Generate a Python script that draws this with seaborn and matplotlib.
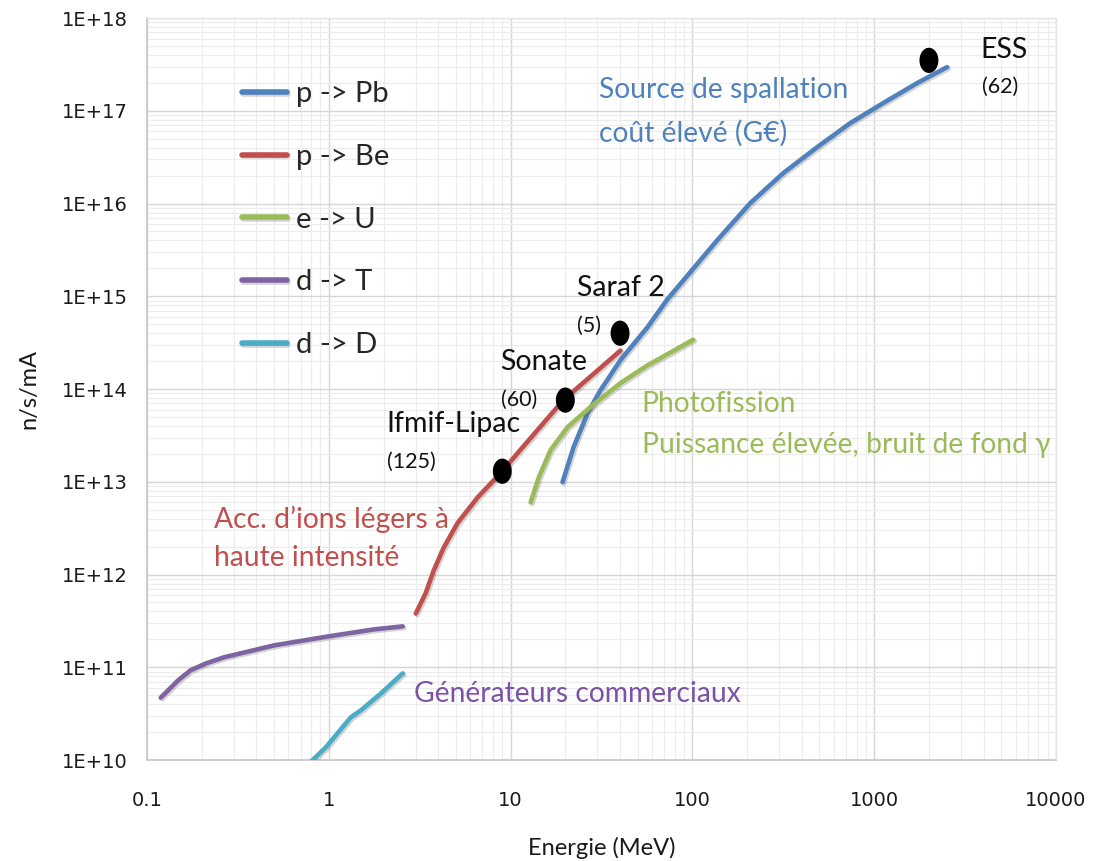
import numpy as np
import pandas as pd
import matplotlib
matplotlib.use("Agg")
import matplotlib.pyplot as plt
import matplotlib.patheffects as pe
from matplotlib.path import Path
from matplotlib.ticker import LogLocator, FixedLocator, FixedFormatter, NullFormatter
import seaborn as sns

# Neutron yield (n/s/mA) versus beam energy (MeV) for each reaction
pb_energy = [19.3, 22.2, 26.5, 31.2, 40.2, 56.6, 72.9, 89.3, 137, 208, 316,
             486, 738, 1119, 1722, 2520]
pb_yield = [9.9e12, 2.36e13, 5.5e13, 9.7e13, 2.05e14, 4.64e14, 9.3e14, 1.49e15,
            4.03e15, 1.01e16, 2.13e16, 4.06e16, 7.37e16, 1.21e17, 1.99e17, 2.96e17]

be_energy = [3.01, 3.41, 3.78, 4.29, 5.11, 6.59, 8.81, 11.3, 19.5, 40.2]
be_yield = [3.8e11, 6.3e11, 1.11e12, 1.96e12, 3.6e12, 6.8e12, 1.24e13, 2.2e13,
            7.6e13, 2.6e14]

u_energy = [12.9, 14.3, 16.6, 20.6, 27.5, 40.2, 56.6, 101]
u_yield = [6.0e12, 1.12e13, 2.2e13, 3.9e13, 6.4e13, 1.16e14, 1.8e14, 3.4e14]

t_energy = [0.119, 0.148, 0.174, 0.211, 0.265, 0.499, 0.99, 1.77, 2.55]
t_yield = [4.7e10, 7.2e10, 9.3e10, 1.10e11, 1.28e11, 1.72e11, 2.15e11, 2.56e11,
           2.76e11]

d_energy = [0.78, 0.963, 1.32, 1.50, 1.93, 2.55]
d_yield = [9.2e9, 1.37e10, 2.88e10, 3.43e10, 5.2e10, 8.6e10]

reactions = ["p -> Pb", "p -> Be", "e -> U", "d -> T", "d -> D"]
reaction_colors = ["#4f81bd", "#c0504d", "#9bbb59", "#8064a2", "#4bacc6"]

# Facilities: name, energy (MeV), yield (n/s/mA), current label
facility_names = ["ESS", "Saraf 2", "Sonate", "Ifmif-Lipac"]
facility_energy = [2000, 40, 20, 9]
facility_yield = [3.5e17, 4.0e14, 7.6e13, 1.3e13]
facility_notes = ["(62)", "(5)", "(60)", "(125)"]

x_ticks = [0.1, 1, 10, 100, 1000, 10000]
x_tick_labels = ["0.1", "1", "10", "100", "1000", "10000"]
y_ticks = [1e10, 1e11, 1e12, 1e13, 1e14, 1e15, 1e16, 1e17, 1e18]
y_tick_labels = ["1E+10", "1E+11", "1E+12", "1E+13", "1E+14",
                 "1E+15", "1E+16", "1E+17", "1E+18"]

curves = pd.concat([
    pd.DataFrame({"energy": e, "yield": y, "reaction": r})
    for e, y, r in zip([pb_energy, be_energy, u_energy, t_energy, d_energy],
                       [pb_yield, be_yield, u_yield, t_yield, d_yield],
                       reactions)
], ignore_index=True)

sns.set_theme(style="white")
plt.rcParams["font.family"] = ["Lato", "DejaVu Sans"]

fig = plt.figure(figsize=(11.17, 8.61), dpi=100)
ax = fig.add_axes([0.1316, 0.1173, 0.8138, 0.8617])
ax.set_xscale("log")
ax.set_yscale("log")

sns.lineplot(data=curves, x="energy", y="yield", hue="reaction",
             hue_order=reactions, palette=dict(zip(reactions, reaction_colors)),
             estimator=None, sort=False, linewidth=3.3, ax=ax, zorder=3)
for line in ax.get_lines():
    line.set_solid_capstyle("round")
    line.set_solid_joinstyle("round")
    line.set_path_effects([
        pe.SimpleLineShadow(offset=(1.2, -1.2), shadow_color="#555555", alpha=0.25),
        pe.Normal()])

# Slightly tall elliptical dots for the facilities
theta = np.linspace(0, 2 * np.pi, 60)
ellipse = Path(np.column_stack([0.75 * np.cos(theta), np.sin(theta)]))
sns.scatterplot(x=facility_energy, y=facility_yield, marker=ellipse, s=330,
                color="black", edgecolor="none", ax=ax, zorder=4)

ax.set_xlim(0.1, 10000)
ax.set_ylim(1e10, 1e18)

ax.xaxis.set_major_locator(FixedLocator(x_ticks))
ax.xaxis.set_major_formatter(FixedFormatter(x_tick_labels))
ax.yaxis.set_major_locator(FixedLocator(y_ticks))
ax.yaxis.set_major_formatter(FixedFormatter(y_tick_labels))
ax.xaxis.set_minor_locator(LogLocator(base=10, subs=np.arange(2, 10), numticks=20))
ax.yaxis.set_minor_locator(LogLocator(base=10, subs=np.arange(2, 10), numticks=20))
ax.xaxis.set_minor_formatter(NullFormatter())
ax.yaxis.set_minor_formatter(NullFormatter())

ax.grid(which="major", color="#d6d6d6", linewidth=1.0)
ax.grid(which="minor", color="#ececec", linewidth=0.8)
ax.set_axisbelow(True)
ax.tick_params(which="both", length=0, labelsize=14, colors="#1a1a1a")
for lbl in ax.get_xticklabels() + ax.get_yticklabels():
    lbl.set_fontfamily("DejaVu Sans")
ax.tick_params(axis="y", pad=14)
ax.tick_params(axis="x", pad=22)
for side in ["left", "bottom"]:
    ax.spines[side].set_color("#c8c8c8")
    ax.spines[side].set_linewidth(1.2)
for side in ["top", "right"]:
    ax.spines[side].set_color("#e6e6e6")
    ax.spines[side].set_linewidth(1.0)

ax.set_xlabel("Energie (MeV)", fontsize=17, labelpad=20, color="#1a1a1a")
ax.set_ylabel("n/s/mA", fontsize=17, labelpad=16, color="#1a1a1a")

handles, labels = ax.get_legend_handles_labels()
for h in handles:
    h.set_linewidth(4.0)
    h.set_solid_capstyle("round")
ax.legend(handles, labels, loc="upper left", bbox_to_anchor=(0.104, 0.915),
          frameon=False, fontsize=21, handlelength=1.55, handletextpad=0.32,
          labelspacing=1.26, borderpad=0, borderaxespad=0)

# Facility names with their beam currents
name_pos = [(3820, 4.5e17), (23.1, 1.22e15), (8.8, 1.94e14), (2.08, 4.17e13)]
note_pos = [(3900, 1.8e17), (23.3, 4.75e14), (8.8, 7.6e13), (2.08, 1.62e13)]
for name, note, (nx, ny), (mx, my) in zip(facility_names, facility_notes,
                                          name_pos, note_pos):
    ax.text(nx, ny, name, fontsize=20.5, va="center", ha="left", color="#111111")
    ax.text(mx, my, note, fontsize=15.5, va="center", ha="left", color="#111111")

# Descriptions of each source family
desc_size = 20.3
ax.text(30.5, 1.67e17, "Source de spallation", fontsize=desc_size, va="center",
        color="#4f81bd")
ax.text(30.5, 5.74e16, "coût élevé (G€)", fontsize=desc_size, va="center",
        color="#4f81bd")
ax.text(52.5, 6.86e13, "Photofission", fontsize=desc_size, va="center",
        color="#9bbb59")
ax.text(52.5, 2.48e13, "Puissance élevée, bruit de fond γ", fontsize=desc_size,
        va="center", color="#9bbb59")
ax.text(0.233, 3.94e12, "Acc. d\u2019ions légers à", fontsize=desc_size,
        va="center", color="#c0504d")
ax.text(0.233, 1.5e12, "haute intensité", fontsize=desc_size, va="center",
        color="#c0504d")
ax.text(2.93, 5.1e10, "Générateurs commerciaux", fontsize=desc_size, va="center",
        color="#7b52a6")

fig.savefig("out.png", dpi=100)
